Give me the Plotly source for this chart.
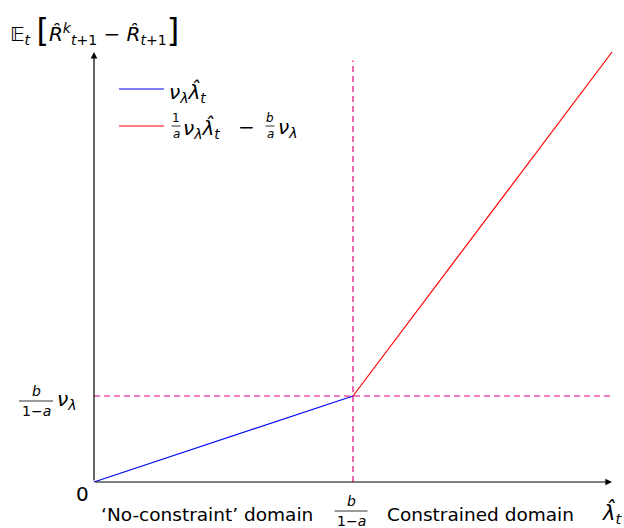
import plotly.graph_objects as go

# ---- data (normalised units: nu_lambda = 1, b/(1-a) = 1, a = 0.25) ----
blue_x = [0, 1]
blue_y = [0, 1]
red_x = [1, 2]
red_y = [1, 5]
kink_x = 1
kink_y = 1
x_max = 2
y_max = 5
v_dash_top = 4.9

W, H = 624, 528
L, R, T, B = 84, 2, 42, 36
PW, PH = W - L - R, H - T - B
PXU_X, PXU_Y = 259.0, 86.0
x0 = -10 / PXU_X
y0 = -10 / PXU_Y
xr = [x0, x0 + PW / PXU_X]
yr = [y0, y0 + PH / PXU_Y]

FONT = "DejaVu Sans"
BLUE = "#0000FF"
RED = "#FF0000"
PINK = "#E4007C"


def px(xpix):
    return (xpix - L) / PW


def py(ypix):
    return (H - B - ypix) / PH


fig = go.Figure()
fig.add_trace(go.Scatter(x=blue_x, y=blue_y, mode="lines",
                         line=dict(color=BLUE, width=1.2), showlegend=False,
                         hoverinfo="skip"))
fig.add_trace(go.Scatter(x=red_x, y=red_y, mode="lines",
                         line=dict(color=RED, width=1.2), showlegend=False,
                         hoverinfo="skip"))

shapes = []
ann = []

# dashed guides
shapes.append(dict(type="line", xref="x", yref="y", x0=0, x1=x_max, y0=kink_y, y1=kink_y,
                   line=dict(color=PINK, width=1.2, dash="6px,4px"), layer="below"))
shapes.append(dict(type="line", xref="x", yref="y", x0=kink_x, x1=kink_x, y0=0, y1=v_dash_top,
                   line=dict(color=PINK, width=1.2, dash="6px,4px"), layer="below"))

# axes with arrows
ann.append(dict(x=x_max, y=0, ax=0, ay=0, xref="x", yref="y", axref="x", ayref="y",
                text="", showarrow=True, arrowhead=2, arrowsize=1.1, arrowwidth=1.2,
                arrowcolor="black", standoff=0, startstandoff=0))
ann.append(dict(x=0, y=y_max, ax=0, ay=0, xref="x", yref="y", axref="x", ayref="y",
                text="", showarrow=True, arrowhead=2, arrowsize=1.1, arrowwidth=1.2,
                arrowcolor="black", standoff=0, startstandoff=0))


def text(t, xpix, ypix, size=16, xanchor="center"):
    ann.append(dict(x=px(xpix), y=py(ypix), xref="paper", yref="paper", text=t,
                    showarrow=False, xanchor=xanchor, yanchor="middle",
                    font=dict(family=FONT, size=size, color="black")))


def frac(num, den, cx, ybar, w, size=12, gap=9):
    text(num, cx, ybar - gap, size)
    text(den, cx, ybar + gap, size)
    shapes.append(dict(type="line", xref="paper", yref="paper",
                       x0=px(cx - w / 2), x1=px(cx + w / 2), y0=py(ybar), y1=py(ybar),
                       line=dict(color="black", width=0.8)))


NU = "<i>ν</i><sub><i>λ</i></sub>"
LAM = "<i>λ̂</i><sub><i>t</i></sub>"

# title of y axis
ann.append(dict(x=px(8), y=py(30), xref="paper", yref="paper", xanchor="left", yanchor="middle",
                showarrow=False,
                text=("𝔼<sub><i>t</i></sub> <span style='font-size:32px'>[</span>"
                      "<i>R̂</i><sup><i>k</i></sup><sub><i>t</i>+1</sub> − <i>R̂</i><sub><i>t</i>+1</sub>"
                      "<span style='font-size:32px'>]</span>"),
                font=dict(family=FONT, size=20, color="black")))

# y tick label
frac("<i>b</i>", "1−<i>a</i>", 36, 401, 34, size=14, gap=10)
text(NU, 55, 400, size=20, xanchor="left")
text("0", 82, 494, size=20)

# x labels
text("‘No-constraint’ domain", 207, 514, size=18.5)
frac("<i>b</i>", "1−<i>a</i>", 351, 511, 33, size=14, gap=10)
text("Constrained domain", 480, 514, size=18.5)
text(LAM, 612, 513, size=21)

# custom legend
shapes.append(dict(type="line", xref="paper", yref="paper", x0=px(119), x1=px(164),
                   y0=py(89), y1=py(89), line=dict(color=BLUE, width=1.2)))
shapes.append(dict(type="line", xref="paper", yref="paper", x0=px(119), x1=px(164),
                   y0=py(126), y1=py(126), line=dict(color=RED, width=1.2)))
text(NU + LAM, 167, 92, size=20, xanchor="left")
frac("1", "<i>a</i>", 176, 126, 9, size=12, gap=8)
text(NU + LAM, 181, 128, size=20, xanchor="left")
text("−", 246, 127, size=20)
frac("<i>b</i>", "<i>a</i>", 270, 126, 9, size=12, gap=8)
text(NU, 276, 128, size=20, xanchor="left")

fig.update_layout(
    width=W, height=H,
    margin=dict(l=L, r=R, t=T, b=B),
    paper_bgcolor="white", plot_bgcolor="white",
    xaxis=dict(range=xr, visible=False, fixedrange=True),
    yaxis=dict(range=yr, visible=False, fixedrange=True),
    shapes=shapes, annotations=ann, showlegend=False,
)

fig.write_html("out.html")
